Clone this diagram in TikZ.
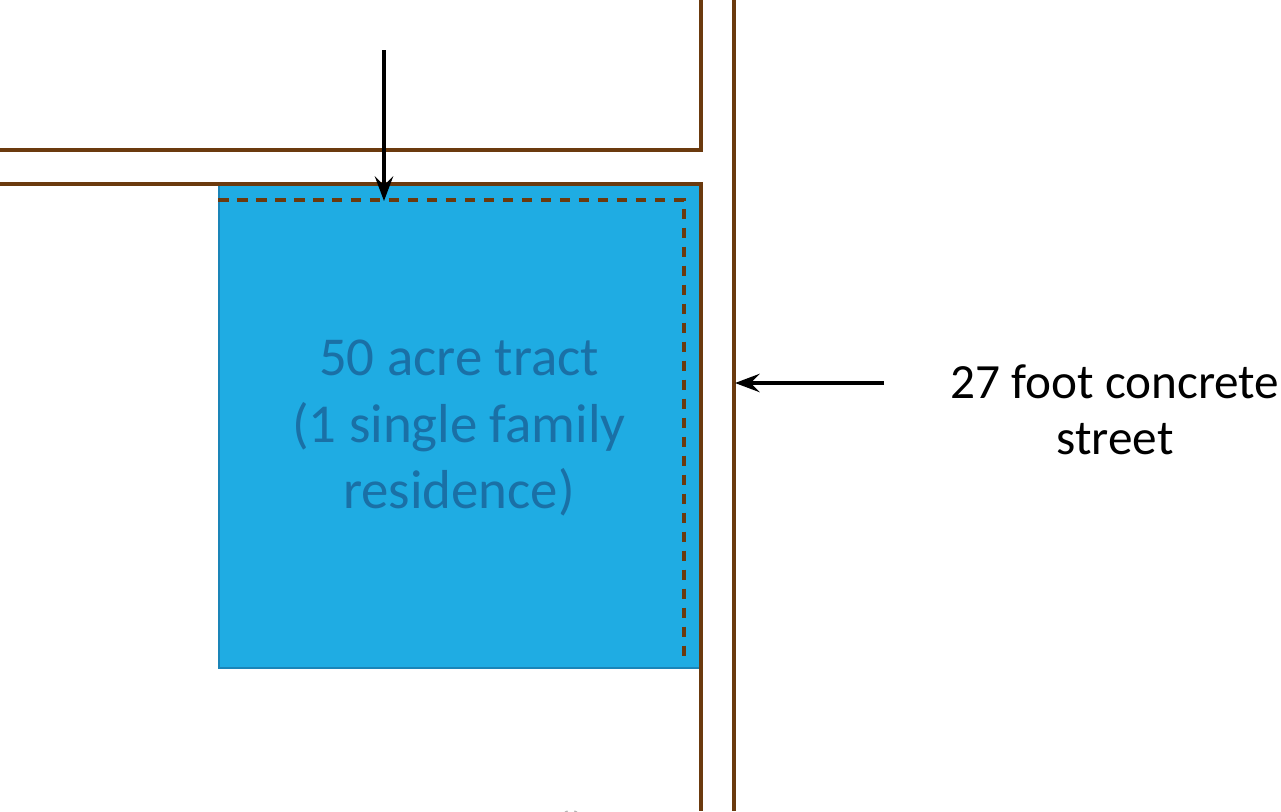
\documentclass[tikz,border=0pt]{standalone}
\usepackage{fontspec}
\setmainfont{Carlito}
\usetikzlibrary{arrows.meta}
\definecolor{road}{HTML}{6B3A0E}
\definecolor{lotfill}{HTML}{1FACE3}
\definecolor{lotedge}{HTML}{1A85B8}
\definecolor{lottext}{HTML}{1A70A6}
\tikzset{
  roadline/.style={draw=road, line width=1.05pt},
  setback/.style={draw=road, line width=0.95pt, dash pattern=on 3pt off 2.4pt},
  pointer/.style={draw=black, line width=1.05pt, -{Stealth[length=7pt,width=5.2pt,inset=2.6pt]}},
}
\begin{document}
\begin{tikzpicture}[x=0.01cm,y=-0.01cm]
\useasboundingbox (0,0) rectangle (1281,811);
% lot
\node[draw=lotedge, fill=lotfill, line width=0.6pt, inner sep=0pt, anchor=north west, minimum width=4.83cm, minimum height=4.83cm] (lot) at (218,184) {};
\node[text=lottext, font=\fontsize{15.6pt}{19pt}\selectfont, align=center] (lotlabel) at (459,428) {50 acre tract\\(1 single family\\residence)};
% setback dashed line
\coordinate (s1) at (218,200);
\coordinate (s2) at (684,200);
\coordinate (s3) at (684,660);
\draw[setback] (s1) -- (s2) -- (s3);
% roads
\coordinate (a1) at (0,150);
\coordinate (a2) at (701,150);
\coordinate (a3) at (701,0);
\draw[roadline] (a1) -- (a2) -- (a3);
\coordinate (b1) at (0,184);
\coordinate (b2) at (701,184);
\coordinate (b3) at (701,811);
\draw[roadline] (b1) -- (b2) -- (b3);
\coordinate (c1) at (734,0);
\coordinate (c2) at (734,811);
\draw[roadline] (c1) -- (c2);
% pointers
\coordinate (p1) at (384,50);
\coordinate (p2) at (384,201);
\draw[pointer] (p1) -- (p2);
\coordinate (q1) at (884,383);
\coordinate (q2) at (735,383);
\draw[pointer] (q1) -- (q2);
\node[text=black, font=\fontsize{14pt}{15.8pt}\selectfont, align=center] (street) at (1115,410) {27 foot concrete\\street};
% small partial mark at bottom edge
\draw[gray!60, line width=0.8pt] (566,811) arc[start angle=180, end angle=0, radius=5];
\end{tikzpicture}
\end{document}
